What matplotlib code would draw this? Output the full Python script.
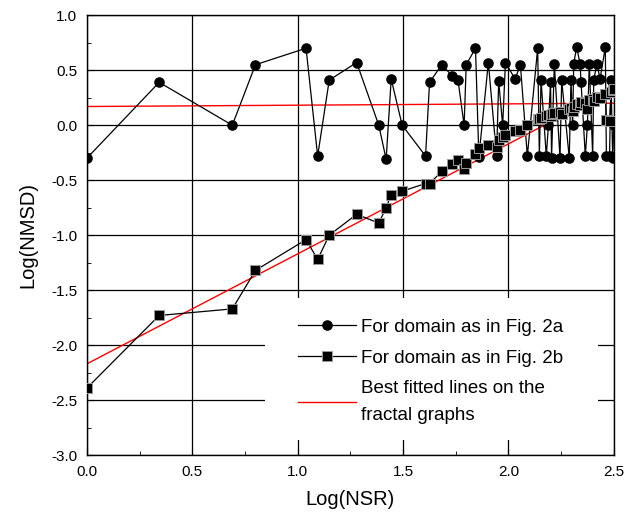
import matplotlib
matplotlib.use('Agg')
import matplotlib.pyplot as plt
from matplotlib.patches import Rectangle
from matplotlib.ticker import MultipleLocator

# data ------------------------------------------------------------------------
log_nsr = [0.000, 0.343, 0.690, 0.800, 1.040, 1.095, 1.150, 1.280, 1.385, 1.420,
           1.444, 1.496, 1.607, 1.626, 1.684, 1.733, 1.761, 1.790, 1.800, 1.844,
           1.860, 1.905, 1.944, 1.954, 1.973, 1.986, 2.032, 2.057, 2.090, 2.139,
           2.147, 2.155, 2.180, 2.190, 2.200, 2.205, 2.218, 2.245, 2.253, 2.289,
           2.297, 2.305, 2.310, 2.324, 2.340, 2.345, 2.365, 2.375, 2.384, 2.400,
           2.405, 2.420, 2.435, 2.460, 2.465, 2.480, 2.487, 2.495, 2.500]

nmsd_fig2a = [-0.30, 0.39, 0.00, 0.55, 0.70, -0.28, 0.41, 0.57, 0.00, -0.31,
              0.42, 0.00, -0.28, 0.39, 0.55, 0.45, 0.41, 0.00, 0.55, 0.70,
              -0.29, 0.57, -0.28, 0.40, 0.00, 0.57, 0.42, 0.55, -0.28, 0.70,
              -0.28, 0.41, -0.28, 0.00, 0.39, -0.30, 0.56, -0.30, 0.41, -0.30,
              0.41, 0.00, 0.56, 0.71, 0.56, 0.39, -0.28, 0.00, 0.56, -0.28,
              0.41, 0.56, 0.42, 0.71, -0.28, -0.28, 0.41, -0.30, 0.00]

nmsd_fig2b = [-2.39, -1.73, -1.67, -1.32, -1.04, -1.22, -1.00, -0.81, -0.89, -0.75,
              -0.63, -0.60, -0.53, -0.53, -0.42, -0.35, -0.32, -0.40, -0.34, -0.26,
              -0.21, -0.18, -0.20, -0.13, -0.11, -0.09, -0.05, -0.04, 0.00, 0.06,
              0.06, 0.07, 0.08, 0.09, 0.08, 0.10, 0.11, 0.12, 0.10, 0.15,
              0.16, 0.13, 0.17, 0.19, 0.18, 0.21, 0.20, 0.15, 0.23, 0.24,
              0.22, 0.26, 0.25, 0.28, 0.05, 0.04, 0.30, 0.32, 0.33]

# best fitted lines (end points)
fit_x = [0.0, 2.5]
fit_2a = [0.17, 0.20]
fit_2b = [-2.17, 0.33]

labels = ['For domain as in Fig. 2a', 'For domain as in Fig. 2b',
          'Best fitted lines on the\nfractal graphs']

# plot -------------------------------------------------------------------------
plt.rcParams['font.family'] = ['Liberation Sans', 'DejaVu Sans']
fig, ax = plt.subplots(figsize=(6.25, 5.25), dpi=100)
plt.subplots_adjust(left=0.139, right=0.982, top=0.971, bottom=0.133)

ax.plot(log_nsr, nmsd_fig2a, color='black', lw=0.9, marker='o', ms=6.6,
        mfc='black', mec='black', zorder=3, label=labels[0])
ax.plot(log_nsr, nmsd_fig2b, color='black', lw=0.9, marker='s', ms=7.0,
        mfc='black', mec='#9a9a9a', mew=0.7, zorder=3, label=labels[1])
ax.plot(fit_x, fit_2a, color='red', lw=1.0, zorder=2.5, label=labels[2])
ax.plot(fit_x, fit_2b, color='red', lw=1.0, zorder=2.5)

ax.set_xlim(0, 2.5)
ax.set_ylim(-3.0, 1.0)
ax.xaxis.set_major_locator(MultipleLocator(0.5))
ax.xaxis.set_minor_locator(MultipleLocator(0.25))
ax.yaxis.set_major_locator(MultipleLocator(0.5))
ax.yaxis.set_minor_locator(MultipleLocator(0.25))
ax.xaxis.set_major_formatter(plt.FormatStrFormatter('%.1f'))
ax.yaxis.set_major_formatter(plt.FormatStrFormatter('%.1f'))
ax.tick_params(which='both', direction='in', labelsize=11, color='black')
ax.tick_params(axis='x', which='major', pad=7, length=5)
ax.tick_params(axis='y', which='major', pad=7, length=5)
ax.tick_params(which='minor', length=3)

ax.set_axisbelow(True)
ax.grid(which='major', color='black', lw=0.9)
for s in ax.spines.values():
    s.set_linewidth(1.0)

# white box behind the legend, hiding the grid
ax.add_patch(Rectangle((0.338, 0.034), 0.632, 0.323, transform=ax.transAxes,
                       facecolor='white', edgecolor='none', zorder=1))
leg = ax.legend(loc='upper left', bbox_to_anchor=(0.40, 0.31), frameon=False,
                fontsize=13.5, handlelength=3.1, handletextpad=0.3,
                labelspacing=0.72, borderpad=0, borderaxespad=0)
leg.get_texts()[2].set_linespacing(1.75)

ax.set_xlabel('Log(NSR)', fontsize=14.5, labelpad=8)
ax.set_ylabel('Log(NMSD)', fontsize=14.5, labelpad=10)

fig.savefig('out.png', dpi=100)
